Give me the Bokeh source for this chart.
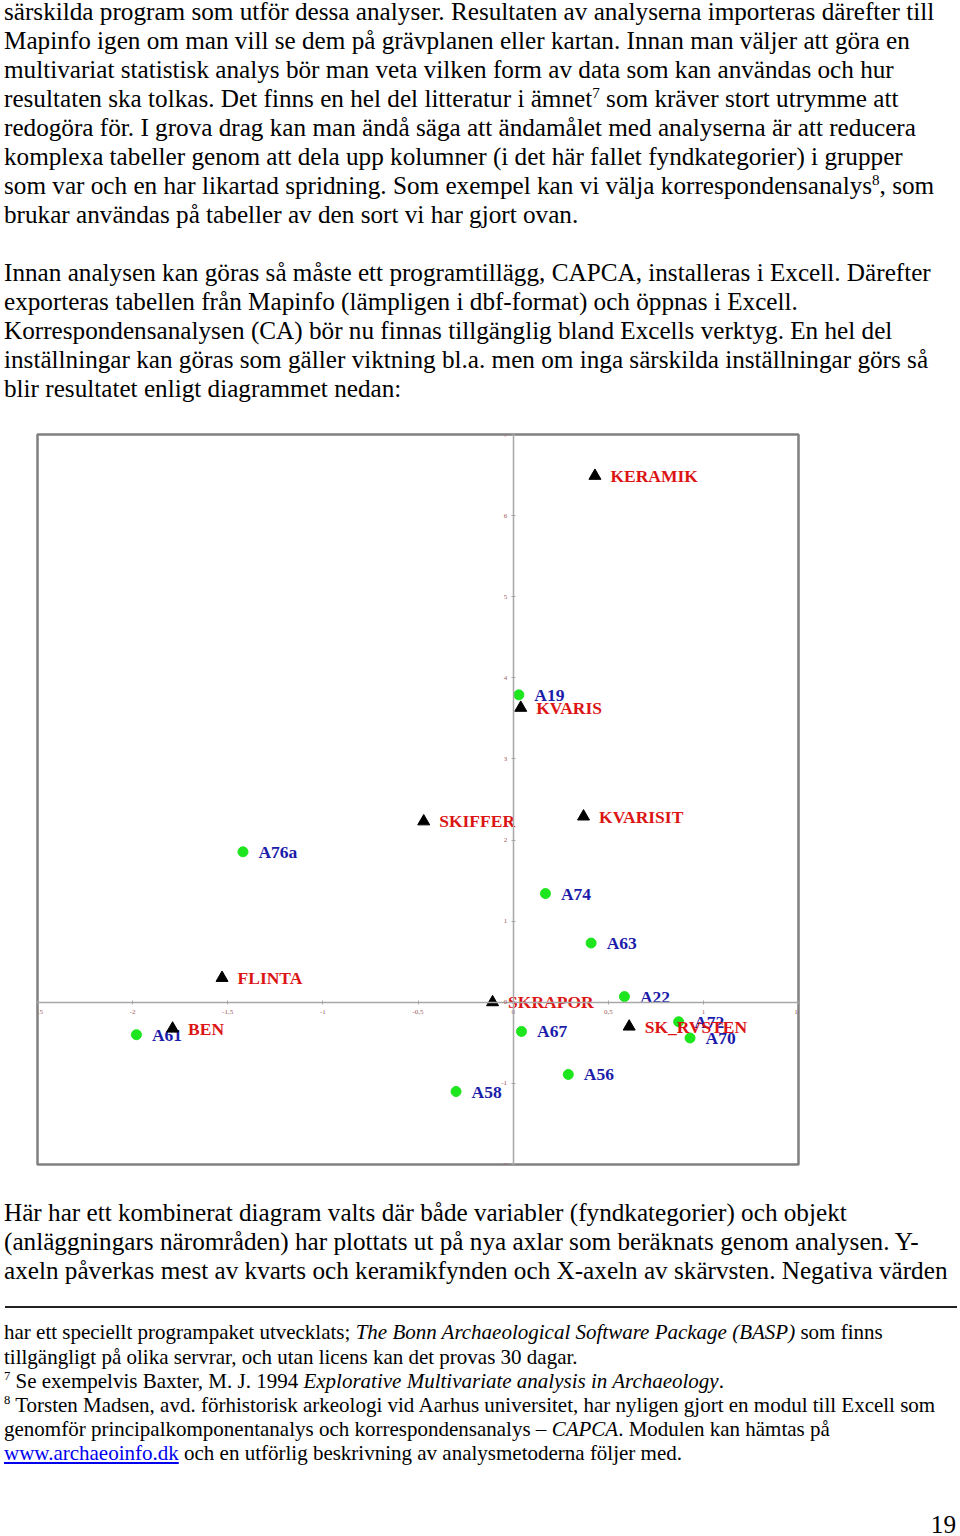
from bokeh.plotting import figure
from bokeh.models import Div, FixedTicker, ColumnDataSource
from bokeh.layouts import column
from bokeh.embed import file_html
from bokeh.resources import INLINE
from bokeh.core.properties import value

# ---------------- data ----------------
obj_names = ["A19", "A76a", "A74", "A63", "A22", "A72", "A70", "A61", "A67", "A56", "A58"]
obj_x = [0.03, -1.42, 0.17, 0.41, 0.585, 0.87, 0.93, -1.98, 0.044, 0.29, -0.30]
obj_y = [3.79, 1.855, 1.34, 0.73, 0.07, -0.24, -0.44, -0.40, -0.36, -0.89, -1.10]

var_names = ["KERAMIK", "KVARIS", "SKIFFER", "KVARISIT", "FLINTA", "SKRAPOR", "SK_RVSTEN", "BEN"]
var_x = [0.43, 0.04, -0.47, 0.37, -1.53, -0.108, 0.61, -1.79]
var_y = [6.49, 3.63, 2.23, 2.29, 0.30, 0.0, -0.30, -0.325]

x_ticks = [-2.5, -2, -1.5, -1, -0.5, 0, 0.5, 1, 1.5]
x_tick_labels = ["-2,5", "-2", "-1,5", "-1", "-0,5", "0", "0,5", "1", "1,5"]
y_ticks = [-2, -1, 0, 1, 2, 3, 4, 5, 6, 7]
y_tick_labels = ["-2", "-1", "0", "1", "2", "3", "4", "5", "6", "7"]

para1 = [
    "särskilda program som utför dessa analyser. Resultaten av analyserna importeras därefter till",
    "Mapinfo igen om man vill se dem på grävplanen eller kartan. Innan man väljer att göra en",
    "multivariat statistisk analys bör man veta vilken form av data som kan användas och hur",
    "resultaten ska tolkas. Det finns en hel del litteratur i ämnet<sup>7</sup> som kräver stort utrymme att",
    "redogöra för. I grova drag kan man ändå säga att ändamålet med analyserna är att reducera",
    "komplexa tabeller genom att dela upp kolumner (i det här fallet fyndkategorier) i grupper",
    "som var och en har likartad spridning. Som exempel kan vi välja korrespondensanalys<sup>8</sup>, som",
    "brukar användas på tabeller av den sort vi har gjort ovan.",
]
para2 = [
    "Innan analysen kan göras så måste ett programtillägg, CAPCA, installeras i Excell. Därefter",
    "exporteras tabellen från Mapinfo (lämpligen i dbf-format) och öppnas i Excell.",
    "Korrespondensanalysen (CA) bör nu finnas tillgänglig bland Excells verktyg. En hel del",
    "inställningar kan göras som gäller viktning bl.a. men om inga särskilda inställningar görs så",
    "blir resultatet enligt diagrammet nedan:",
]
para3 = [
    "Här har ett kombinerat diagram valts där både variabler (fyndkategorier) och objekt",
    "(anläggningars närområden) har plottats ut på nya axlar som beräknats genom analysen. Y-",
    "axeln påverkas mest av kvarts och keramikfynden och X-axeln av skärvsten. Negativa värden",
]
footnotes = [
    "har ett speciellt programpaket utvecklats; <i>The Bonn Archaeological Software Package (BASP)</i> som finns",
    "tillgängligt på olika servrar, och utan licens kan det provas 30 dagar.",
    "<sup>7</sup> Se exempelvis Baxter, M. J. 1994 <i>Explorative Multivariate analysis in Archaeology</i>.",
    "<sup>8</sup> Torsten Madsen, avd. förhistorisk arkeologi vid Aarhus universitet, har nyligen gjort en modul till Excell som",
    "genomför principalkomponentanalys och korrespondensanalys – <i>CAPCA</i>. Modulen kan hämtas på",
    "<u style=\"color:#0000ee\">www.archaeoinfo.dk</u> och en utförlig beskrivning av analysmetoderna följer med.",
]
page_number = "19"

FONT = "'Liberation Serif', 'Times New Roman', serif"
MAIN_FS = 25.2
FOOT_FS = 21


def line_html(html, baseline, fs, lh, left=4.0, align="left"):
    top = baseline - ((lh - 1.107 * fs) / 2 + 0.891 * fs)
    html = html.replace("<sup>", "<sup style=\"font-size:0.6em;vertical-align:0.6em;line-height:0\">")
    pos = f"left:{left}px;" if align == "left" else f"right:{left}px;"
    return (f'<div style="position:absolute;{pos}top:{top:.1f}px;height:{lh}px;'
            f'line-height:{lh}px;font-size:{fs}px;white-space:nowrap;color:#000;">{html}</div>')


# ---------------- top text ----------------
TOP_H = 425
parts = []
for i, t in enumerate(para1):
    parts.append(line_html(t, 20 + 29 * i, MAIN_FS, 23))
for i, t in enumerate(para2):
    parts.append(line_html(t, 20 + 29 * (i + 9), MAIN_FS, 23))
top_html = (f'<div style="position:relative;width:960px;height:{TOP_H}px;'
            f'font-family:{FONT};background:#fff;">' + "".join(parts) + "</div>")
top_div = Div(text=top_html, width=960, height=TOP_H, margin=0)

# ---------------- chart ----------------
FIG_TOP = 425
FIG_H = 755
p = figure(width=960, height=FIG_H, x_range=(-2.5, 1.5), y_range=(-2, 7),
           output_backend="svg", toolbar_location=None,
           min_border_left=37, min_border_right=162, min_border_top=9, min_border_bottom=16,
           background_fill_color="white", border_fill_color="white")
p.grid.visible = False
p.outline_line_color = "#808080"
p.outline_line_width = 2.5

for ax, ticks, labels in ((p.xaxis, x_ticks, x_tick_labels), (p.yaxis, y_ticks, y_tick_labels)):
    ax.fixed_location = 0
    ax.ticker = FixedTicker(ticks=ticks, minor_ticks=[])
    ax.major_label_overrides = {float(k): v for k, v in zip(ticks, labels)}
    ax.axis_line_color = "#a8a8a8"
    ax.axis_line_width = 1.5
    ax.major_tick_line_color = "#a8a8a8"
    ax.major_tick_in = 2
    ax.major_tick_out = 2
    ax.minor_tick_line_color = None
    ax.major_label_text_font_size = "7px"
    ax.major_label_text_color = "#a05a5a"
    ax.major_label_text_font = "Liberation Serif"
p.xaxis.major_label_standoff = 6
p.yaxis.major_label_standoff = 4

obj_src = ColumnDataSource(dict(x=obj_x, y=obj_y, name=obj_names))
var_src = ColumnDataSource(dict(x=var_x, y=var_y, name=var_names))

p.scatter("x", "y", source=obj_src, marker="circle", size=10,
          fill_color="#1ee61e", line_color="#1ee61e")
p.text("x", "y", text="name", source=obj_src, x_offset=15.5, text_baseline="middle",
       text_font=value("Liberation Serif"), text_font_style="bold", text_font_size="17.5px",
       text_color="#1c1caa")
p.scatter("x", "y", source=var_src, marker="triangle", size=12,
          fill_color="black", line_color="black")
p.text("x", "y", text="name", source=var_src, x_offset=15.5, text_baseline="middle",
       text_font=value("Liberation Serif"), text_font_style="bold", text_font_size="17.5px",
       text_color="#dc1414")

# ---------------- bottom text ----------------
BOT_TOP = FIG_TOP + FIG_H
BOT_H = 1536 - BOT_TOP
parts = []
for i, t in enumerate(para3):
    parts.append(line_html(t, 1221 + 29 * i - BOT_TOP, MAIN_FS, 23))
parts.append(f'<div style="position:absolute;left:5px;top:{1306 - BOT_TOP}px;width:952px;height:2px;background:#222;"></div>')
for i, t in enumerate(footnotes):
    parts.append(line_html(t, 1339.5 + 24.2 * i - BOT_TOP, FOOT_FS, 20))
parts.append(line_html(page_number, 1533 - BOT_TOP, MAIN_FS, 23, left=4, align="right"))
bot_html = (f'<div style="position:relative;width:960px;height:{BOT_H}px;'
            f'font-family:{FONT};background:#fff;">' + "".join(parts) + "</div>")
bot_div = Div(text=bot_html, width=960, height=BOT_H, margin=0)

layout = column(top_div, p, bot_div, spacing=0, margin=0)
open("out.html", "w").write(file_html(layout, INLINE))
